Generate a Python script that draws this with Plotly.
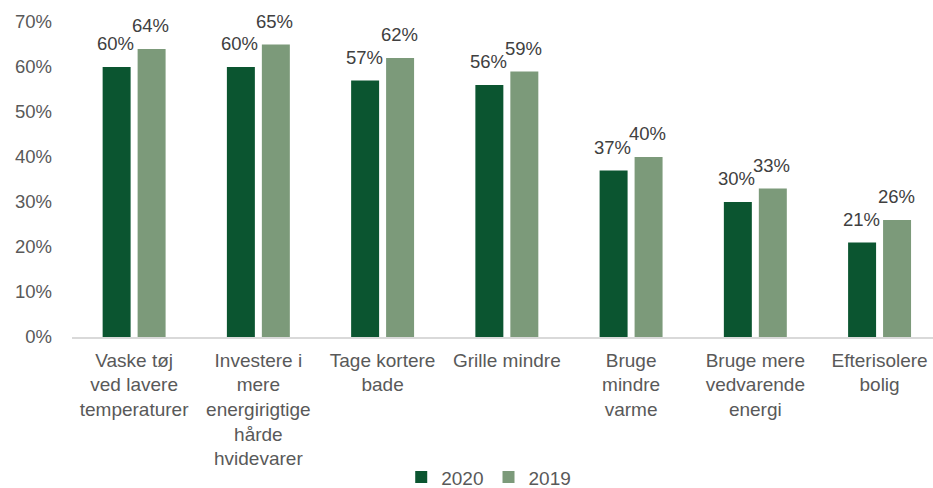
import plotly.graph_objects as go

categories = [
    "Vaske tøj<br>ved lavere<br>temperaturer",
    "Investere i<br>mere<br>energirigtige<br>hårde<br>hvidevarer",
    "Tage kortere<br>bade",
    "Grille mindre",
    "Bruge<br>mindre<br>varme",
    "Bruge mere<br>vedvarende<br>energi",
    "Efterisolere<br>bolig",
]
values_2020 = [0.60, 0.60, 0.57, 0.56, 0.37, 0.30, 0.21]
values_2019 = [0.64, 0.65, 0.62, 0.59, 0.40, 0.33, 0.26]

FONT = "Liberation Sans, Arial, sans-serif"
DARK = "#0B5530"
LIGHT = "#7C9A7A"

BARGAP = 0.437
slot = (1 - BARGAP) / 2          # width of one bar slot inside a group
offsets = [-slot / 2, slot / 2]  # centre of each series' bar relative to category

xs = list(range(len(categories)))
series = [("2020", values_2020, DARK), ("2019", values_2019, LIGHT)]

fig = go.Figure()
for name, vals, color in series:
    fig.add_trace(go.Bar(
        name=name,
        x=xs,
        y=vals,
        marker=dict(color=color, line=dict(width=0)),
        cliponaxis=False,
    ))

# value labels above each bar
annotations = []
for (name, vals, color), off in zip(series, offsets):
    for i, v in enumerate(vals):
        annotations.append(dict(
            x=i + off, y=v, xref="x", yref="y",
            text=f"{round(v * 100)}%",
            showarrow=False,
            yanchor="bottom", xanchor="center",
            yshift=11, xshift=-1,
            font=dict(family=FONT, size=18.5, color="#404040"),
        ))

fig.update_layout(
    width=933,
    height=488,
    margin=dict(l=72, r=0, t=22, b=151),
    paper_bgcolor="white",
    plot_bgcolor="white",
    barmode="group",
    bargap=BARGAP,
    bargroupgap=0.2,
    font=dict(family=FONT, size=18.5, color="#595959"),
    showlegend=True,
    legend=dict(
        orientation="h",
        x=0.484, xanchor="center",
        yref="container",
        y=0.022, yanchor="middle",
        font=dict(family=FONT, size=19, color="#595959"),
        itemwidth=30,
        traceorder="normal",
    ),
    annotations=annotations,
)
fig.update_xaxes(
    tickmode="array",
    tickvals=xs,
    ticktext=categories,
    range=[-0.5, 6.43],
    showline=True,
    linecolor="#D9D9D9",
    linewidth=1.5,
    showgrid=False,
    ticks="",
    tickangle=0,
    automargin=False,
    ticklabelstandoff=5,
    tickfont=dict(family=FONT, size=19, color="#595959"),
)
fig.update_yaxes(
    range=[0, 0.7],
    dtick=0.1,
    tickformat=".0%",
    showgrid=False,
    showline=False,
    zeroline=False,
    ticks="",
    automargin=False,
    ticklabelstandoff=19,
    tickfont=dict(family=FONT, size=18.5, color="#595959"),
)

fig.write_html("out.html")
